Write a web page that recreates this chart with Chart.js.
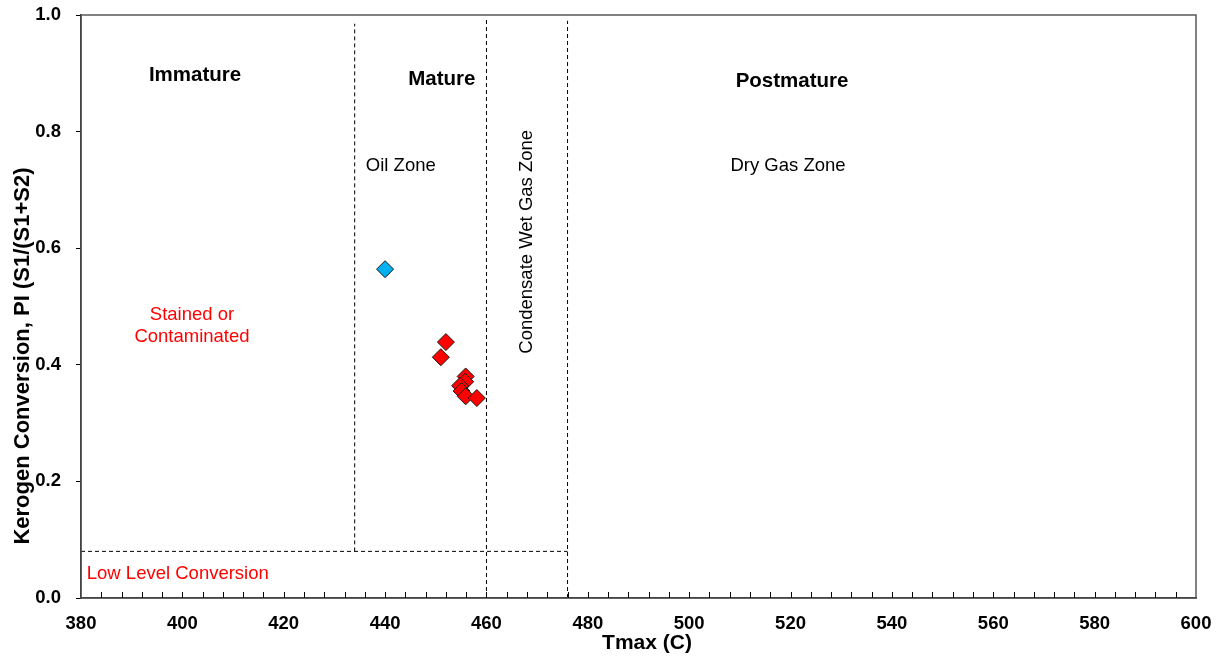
<!DOCTYPE html>
<html>
<head>
<meta charset="utf-8">
<script src="https://cdn.jsdelivr.net/npm/chart.js@4/dist/chart.umd.min.js"></script>
<style>
  html, body { margin: 0; padding: 0; background: #fff; }
  #wrap { width: 1223px; height: 659px; position: relative; }
</style>
</head>
<body>
<div id="wrap"><canvas id="piChart"></canvas></div>
<script>
// sample points
const blueTmax = [440];
const bluePI = [0.564];
const redTmax = [452.0, 451.0, 455.9, 455.8, 454.8, 455.1, 455.9, 458.1];
const redPI = [0.439, 0.413, 0.380, 0.371, 0.364, 0.355, 0.346, 0.343];

// zone boundaries (dashed)
const zoneTmax = [434, 460, 476];
const zoneTop = [0.985, 0.995, 0.99];
const zoneBottom = [0.08, 0, 0];
const lowLevelPI = 0.08;
const lowLevelRange = [380, 476];

// axis ranges
const tmaxRange = [380, 600];
const piRange = [0, 1];

const FONT = "'Liberation Sans', Arial, sans-serif";

const points = (xs, ys) => xs.map((x, i) => ({ x: x, y: ys[i] }));

const dashed = (data) => ({
    type: 'line',
    data: data,
    borderColor: '#000',
    borderWidth: 1,
    borderDash: [4, 3],
    pointRadius: 0,
    fill: false,
    showLine: true
});

const datasets = [];
zoneTmax.forEach((t, i) => {
    datasets.push(dashed([{ x: t, y: zoneBottom[i] }, { x: t, y: zoneTop[i] }]));
});
datasets.push(dashed([{ x: lowLevelRange[0], y: lowLevelPI }, { x: lowLevelRange[1], y: lowLevelPI }]));
datasets.push({
    label: 'Blue',
    data: points(blueTmax, bluePI),
    pointStyle: 'rectRot',
    pointRadius: 8.5,
    backgroundColor: '#00B0F0',
    borderColor: '#1a1a1a',
    borderWidth: 1
});
datasets.push({
    label: 'Red',
    data: points(redTmax, redPI),
    pointStyle: 'rectRot',
    pointRadius: 8.5,
    backgroundColor: '#FF0000',
    borderColor: '#1a1a1a',
    borderWidth: 1
});

// text annotations placed in data coordinates
const labels = [
    { text: 'Immature', x: 402.5, y: 0.897, bold: true, size: 20.5, color: '#000' },
    { text: 'Mature', x: 451.2, y: 0.889, bold: true, size: 20.5, color: '#000' },
    { text: 'Postmature', x: 520.3, y: 0.887, bold: true, size: 20.5, color: '#000' },
    { text: 'Oil Zone', x: 443.1, y: 0.741, size: 18.5, color: '#000' },
    { text: 'Dry Gas Zone', x: 519.5, y: 0.741, size: 18.5, color: '#000' },
    { text: 'Condensate Wet Gas Zone', x: 468.0, y: 0.611, size: 18.5, color: '#000', rotate: true },
    { text: 'Stained or', x: 401.9, y: 0.485, size: 18.5, color: '#FF0000' },
    { text: 'Contaminated', x: 401.9, y: 0.448, size: 18.5, color: '#FF0000' },
    { text: 'Low Level Conversion', x: 399.1, y: 0.041, size: 18.5, color: '#FF0000' }
];

const decor = {
    id: 'decor',
    afterDatasetsDraw(chart) {
        const { ctx, chartArea: a, scales: { x, y } } = chart;
        ctx.save();
        // frame
        ctx.strokeStyle = '#595959';
        ctx.lineWidth = 1.5;
        ctx.strokeRect(a.left, a.top, a.right - a.left, a.bottom - a.top);
        // inward minor ticks on x
        ctx.strokeStyle = '#000';
        ctx.lineWidth = 1;
        for (let v = tmaxRange[0] + 4; v < tmaxRange[1]; v += 4) {
            const px = Math.round(x.getPixelForValue(v)) + 0.5;
            ctx.beginPath();
            ctx.moveTo(px, a.bottom);
            ctx.lineTo(px, a.bottom - 6);
            ctx.stroke();
        }
        // annotations
        ctx.textAlign = 'center';
        ctx.textBaseline = 'middle';
        labels.forEach(l => {
            ctx.font = (l.bold ? 'bold ' : '') + l.size + 'px ' + FONT;
            ctx.fillStyle = l.color;
            const px = x.getPixelForValue(l.x);
            const py = y.getPixelForValue(l.y);
            if (l.rotate) {
                ctx.save();
                ctx.translate(px, py);
                ctx.rotate(-Math.PI / 2);
                ctx.fillText(l.text, 0, 0);
                ctx.restore();
            } else {
                ctx.fillText(l.text, px, py);
            }
        });
        // axis titles
        ctx.fillStyle = '#000';
        ctx.font = 'bold 21px ' + FONT;
        ctx.fillText('Tmax (C)', 647, 643);
        ctx.save();
        ctx.translate(23, 356);
        ctx.rotate(-Math.PI / 2);
        ctx.font = 'bold 22px ' + FONT;
        ctx.fillText('Kerogen Conversion, PI (S1/(S1+S2)', 0, 0);
        ctx.restore();
        ctx.restore();
    }
};

new Chart(document.getElementById('piChart'), {
    type: 'scatter',
    data: { datasets: datasets },
    options: {
        responsive: true,
        maintainAspectRatio: false,
        animation: false,
        layout: { padding: { top: 15, right: 27, left: 0, bottom: 0 } },
        plugins: {
            legend: { display: false },
            tooltip: { enabled: false }
        },
        scales: {
            x: {
                type: 'linear',
                min: tmaxRange[0],
                max: tmaxRange[1],
                afterFit: (s) => { s.height = 61; s.paddingLeft = 0; s.paddingRight = 0; },
                border: { color: '#000', width: 1.5 },
                grid: { display: true, drawOnChartArea: false, drawTicks: false },
                ticks: {
                    stepSize: 20,
                    padding: 15,
                    color: '#000',
                    font: { family: FONT, size: 18.5, weight: 'bold' }
                }
            },
            y: {
                type: 'linear',
                min: piRange[0],
                max: piRange[1],
                afterFit: (s) => { s.width = 81; s.paddingTop = 0; s.paddingBottom = 0; },
                border: { color: '#000', width: 1.5 },
                grid: { display: true, drawOnChartArea: false, drawTicks: true, tickLength: 5, tickColor: '#000' },
                ticks: {
                    stepSize: 0.2,
                    padding: 15,
                    color: '#000',
                    font: { family: FONT, size: 18.5, weight: 'bold' },
                    callback: (v) => v.toFixed(1)
                }
            }
        }
    },
    plugins: [decor]
});
</script>
</body>
</html>
